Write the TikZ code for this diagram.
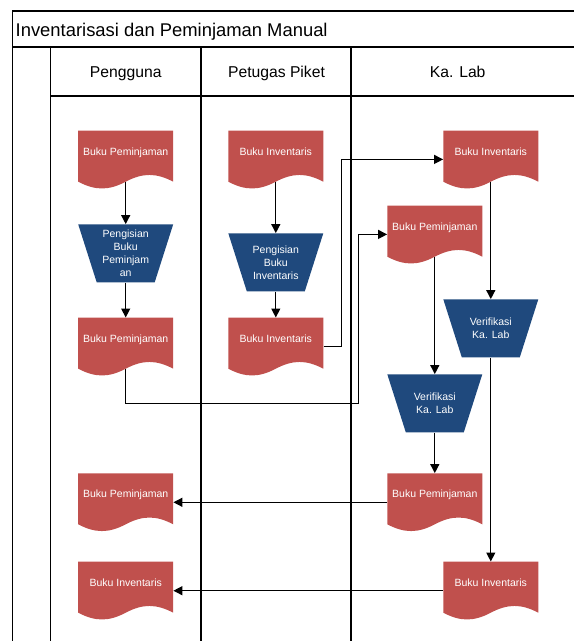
\documentclass[tikz,border=0pt]{standalone}
\usepackage{fontspec}
\setmainfont{Liberation Sans}
\usetikzlibrary{arrows.meta}
\definecolor{docred}{HTML}{C0504D}
\definecolor{trapblue}{HTML}{1F497D}
\tikzset{
  frame/.style={line width=1.4pt, black},
  conn/.style={line width=1.3pt, black},
  arr/.style={conn, -{Triangle[length=9pt,width=9pt]}},
  docbox/.style={rectangle, draw=none, minimum width=95pt, minimum height=51pt, inner sep=0pt},
  doctext/.style={anchor=base, text=white, font=\fontsize{10.5}{12}\selectfont, inner sep=0pt},
  trapbox/.style={rectangle, draw=none, minimum width=95pt, minimum height=58pt, inner sep=0pt,
    text=white, align=center, font=\fontsize{10.5}{13}\selectfont},
  headtext/.style={anchor=base, font=\fontsize{15.7}{18}\selectfont, inner sep=0pt},
}
% #1 name, #2 centre x, #3 top y, #4 text
\newcommand\docnode[4]{%
  \fill[docred] (#2-47.5,#3) -- (#2+47.5,#3) -- (#2+47.5,#3+51)
    .. controls (#2+30.5,#3+42) and (#2+17,#3+42) .. (#2,#3+51)
    .. controls (#2-17,#3+60) and (#2-30.5,#3+60) .. (#2-47.5,#3+51) -- cycle;
  \node[docbox] (#1) at (#2,#3+25.5) {};
  \node[doctext] (#1-t) at (#2,#3+24.3) {#4};
}
\newcommand\trapnode[4]{%
  \fill[trapblue] (#2-47.5,#3) -- (#2+47.5,#3) -- (#2+29,#3+58) -- (#2-29,#3+58) -- cycle;
  \node[trapbox] (#1) at (#2,#3+29) {#4};
}
\begin{document}
\begin{tikzpicture}[x=1pt,y=-1pt]
\useasboundingbox (0,0) rectangle (574,641);
% frame
\draw[frame] (12.5,641) -- (12.5,11) -- (574,11);
\draw[frame] (12.5,47) -- (574,47);
\draw[frame] (50.5,96) -- (574,96);
\draw[frame] (50.5,47) -- (50.5,641);
\draw[frame] (201,47) -- (201,641);
\draw[frame] (351,47) -- (351,641);
\node[anchor=base west, inner sep=0pt, font=\fontsize{18.4}{22}\selectfont] (title) at (15.5,36) {Inventarisasi dan Peminjaman Manual};
\node[headtext] (h1) at (125.7,77) {Pengguna};
\node[headtext] (h2) at (276.5,77) {Petugas Piket};
\node[headtext] (h3) at (457.7,77) {Ka. Lab};
% shapes
\docnode{pA}{125.7}{130.7}{Buku Peminjaman}
\trapnode{pT}{125.7}{224.3}{Pengisian\\Buku\\Peminjam\\an}
\docnode{pB}{125.7}{317.7}{Buku Peminjaman}
\docnode{pC}{125.7}{473.3}{Buku Peminjaman}
\docnode{pD}{125.7}{561.7}{Buku Inventaris}
\docnode{tA}{275.8}{130.7}{Buku Inventaris}
\trapnode{tT}{275.8}{233.3}{Pengisian\\Buku\\Inventaris}
\docnode{tB}{275.8}{317.7}{Buku Inventaris}
\docnode{kA}{490.8}{130.7}{Buku Inventaris}
\docnode{kB}{434.8}{205.7}{Buku Peminjaman}
\trapnode{kT1}{490.8}{299.3}{Verifikasi\\Ka. Lab}
\trapnode{kT2}{434.8}{374.3}{Verifikasi\\Ka. Lab}
\docnode{kC}{434.8}{473.3}{Buku Peminjaman}
\docnode{kD}{490.8}{561.7}{Buku Inventaris}
% connectors
\coordinate (j1) at (358.5,403.3);
\coordinate (j2) at (341.7,250);
\draw[arr] (pA.south) -- (pT.north);
\draw[arr] (pT.south) -- (pB.north);
\draw[arr] (tA.south) -- (tT.north);
\draw[arr] (tT.south) -- (tB.north);
\draw[arr] (pB.south) |- (j1) |- ([yshift=-3.2pt]kB.west);
\draw[arr] ([yshift=-3.5pt]tB.east) -| (j2) |- ([yshift=-3.2pt]kA.west);
\draw[arr] (kA.south) -- (kT1.north);
\draw[arr] (kB.south) -- (kT2.north);
\draw[arr] (kT2.south) -- (kC.north);
\draw[arr] (kT1.south) -- (kD.north);
\draw[arr] ([yshift=-3.5pt]kC.west) -- ([yshift=-3.5pt]pC.east);
\draw[arr] ([yshift=-3.5pt]kD.west) -- ([yshift=-3.5pt]pD.east);
\end{tikzpicture}
\end{document}
